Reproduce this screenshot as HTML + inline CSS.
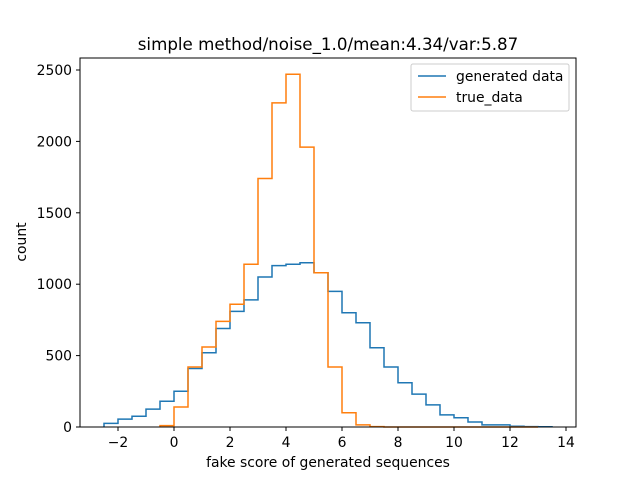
<!DOCTYPE html>
<html><head><meta charset="utf-8"><style>
body{margin:0;background:#fff;}
svg text{font-family:"DejaVu Sans","Liberation Sans",sans-serif;}
</style></head><body>
<svg id="chart" width="640" height="480" viewBox="0 0 640 480" xmlns="http://www.w3.org/2000/svg">
<rect width="640" height="480" fill="#fff"/>
<g id="plot"></g>
<rect x="80" y="58" width="496" height="369" fill="none" stroke="#000" stroke-width="1"/>
<g id="ticks"></g>
<text x="328" y="50" font-size="16.7" text-anchor="middle">simple method/noise_1.0/mean:4.34/var:5.87</text>
<text x="328" y="467" font-size="13.9" text-anchor="middle">fake score of generated sequences</text>
<text transform="translate(26,242) rotate(-90)" font-size="13.9" text-anchor="middle">count</text>
<g>
<rect x="411" y="64" width="158" height="47" rx="2" fill="#fff" fill-opacity="0.8" stroke="#ccc"/>
<line x1="418" y1="76" x2="446" y2="76" stroke="#1f77b4" stroke-width="1.5"/>
<text x="456" y="81" font-size="13.9">generated data</text>
<line x1="418" y1="97" x2="446" y2="97" stroke="#ff7f0e" stroke-width="1.5"/>
<text x="456" y="102" font-size="13.9">true_data</text>
</g>
</svg>
<script>
const genStart = -2.5;
const genCounts = [25,55,75,125,180,250,410,520,690,810,890,1050,1130,1140,1150,1080,950,800,730,555,420,310,230,155,85,65,35,15,15,5,3,2];
const trueStart = -0.5;
const trueCounts = [10,140,420,560,740,860,1140,1740,2270,2470,1960,1080,420,100,15,3,0,0,0,0,0,0,0,0,0,0,0];
const binWidth = 0.5;
const xTicks = [-2,0,2,4,6,8,10,12,14];
const yTicks = [0,500,1000,1500,2000,2500];
const X = v => 174 + v*28;
const Y = c => 427 - c*0.1428;
const NS = 'http://www.w3.org/2000/svg';
function stepPath(start, counts){
  let d = 'M'+X(start)+','+Y(0);
  counts.forEach((c,i)=>{
    const x0 = X(start+i*binWidth), x1 = X(start+(i+1)*binWidth);
    d += ' L'+x0+','+Y(c)+' L'+x1+','+Y(c);
  });
  d += ' L'+X(start+counts.length*binWidth)+','+Y(0);
  return d;
}
const plot = document.getElementById('plot');
[[genStart,genCounts,'#1f77b4','series-generated'],[trueStart,trueCounts,'#ff7f0e','series-true']].forEach(s=>{
  const p = document.createElementNS(NS,'path');
  p.setAttribute('d', stepPath(s[0],s[1]));
  p.setAttribute('fill','none');
  p.setAttribute('stroke',s[2]);
  p.setAttribute('stroke-width','1.5');
  
  
  plot.appendChild(p);
});
const ticks = document.getElementById('ticks');
xTicks.forEach(v=>{
  const l = document.createElementNS(NS,'line');
  l.setAttribute('x1',X(v)); l.setAttribute('x2',X(v));
  l.setAttribute('y1',427); l.setAttribute('y2',431);
  l.setAttribute('stroke','#000');
  
  
  ticks.appendChild(l);
  const t = document.createElementNS(NS,'text');
  t.setAttribute('x',X(v)); t.setAttribute('y',447);
  t.setAttribute('font-size','13.9'); t.setAttribute('text-anchor','middle');
  t.textContent = v<0 ? '\u2212'+Math.abs(v) : v;
  
  
  ticks.appendChild(t);
});
yTicks.forEach(v=>{
  const l = document.createElementNS(NS,'line');
  l.setAttribute('x1',76); l.setAttribute('x2',80);
  l.setAttribute('y1',Y(v)); l.setAttribute('y2',Y(v));
  l.setAttribute('stroke','#000');
  
  
  ticks.appendChild(l);
  const t = document.createElementNS(NS,'text');
  t.setAttribute('x',72); t.setAttribute('y',Y(v)+5);
  t.setAttribute('font-size','13.9'); t.setAttribute('text-anchor','end');
  t.textContent = v;
  
  
  ticks.appendChild(t);
});
</script>
</body></html>
